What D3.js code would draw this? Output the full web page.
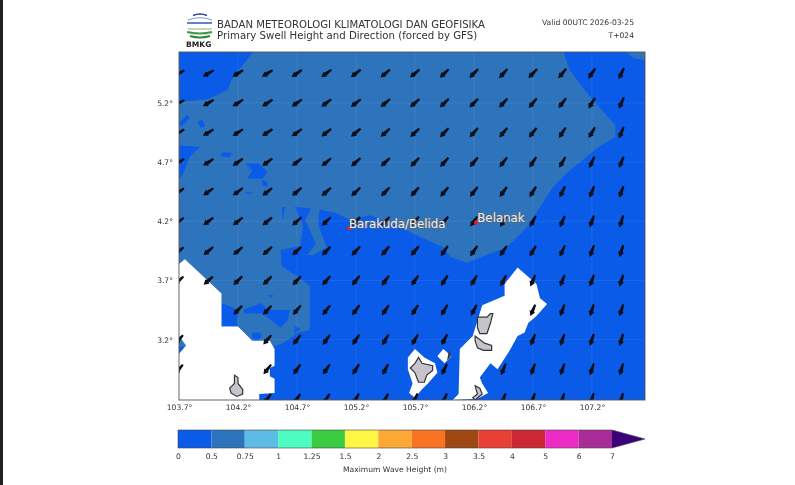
<!DOCTYPE html>
<html lang="en">
<head>
  <meta charset="utf-8">
  <title>Primary Swell Height and Direction</title>
  <script src="https://d3js.org/d3.v7.min.js"></script>
  <style>
    html, body { margin: 0; padding: 0; background: #fff; overflow: hidden; }
    svg { display: block; filter: blur(0.45px); }
    text { font-family: "DejaVu Sans", sans-serif; }
  </style>
</head>
<body>
  <script>
    var width = 795;
    var height = 485;

    // map extent and ticks, degrees
    var lonExtent = [103.7, 107.65];
    var latExtent = [2.69, 5.63];
    var lonTicks = [103.7, 104.2, 104.7, 105.2, 105.7, 106.2, 106.7, 107.2];
    var latTicks = [3.2, 3.7, 4.2, 4.7, 5.2];

    // swell arrows: grid and direction, degrees below west
    // null = no arrow drawn, cell has no data
    var arrowLons = [103.7, 103.95, 104.2, 104.45, 104.7, 104.95, 105.2, 105.45, 105.7, 105.95, 106.2, 106.45, 106.7, 106.95, 107.2, 107.45];
    var arrowLats = [5.45, 5.2, 4.95, 4.7, 4.45, 4.2, 3.95, 3.7, 3.45, 3.2, 2.95, 2.7];
    var arrowDirs = [
      [28, 30, 32, 32, 34, 36, 38, 40, 40, 44, 45, 48, 46, 50, 55, 65],
      [28, 30, 32, 33, 35, 37, 38, 40, 41, 44, 46, 48, 50, 52, 58, 66],
      [30, 31, 33, 34, 36, 38, 40, 42, 43, 46, 48, 50, 52, 56, 60, 67],
      [32, 33, 35, 36, 38, 40, 42, 44, 46, 48, 50, 52, 56, 60, 65, 68],
      [34, 35, 37, 38, 40, 42, 44, 46, 48, 50, 52, 54, 58, 64, 68, 70],
      [36, 37, 38, 40, 42, 44, 46, 48, 50, 52, 54, 58, 62, 66, 70, 72],
      [38, 39, 40, 42, 44, 46, 48, 50, 50, 55, 55, 55, 60, 65, 70, 72],
      [42, 42, 44, 45, 47, 49, 52, 54, 56, 58, 60, 62, 66, 68, 70, 72],
      [null, null, 46, 47, 50, 52, 54, 56, 58, 60, 62, null, 67, 70, 72, 72],
      [48, null, null, 50, 52, 54, 56, 58, 60, 62, null, null, 68, 70, 72, 74],
      [50, null, null, 52, 54, 56, 58, 62, null, 65, null, 68, 70, 70, 72, 74],
      [null, null, null, 54, 56, 58, 60, 63, 64, 65, null, 68, 70, 72, 72, 74]
    ];

    // filled contour 0.5-0.75 m, [lon, lat]
    var mediumBand = [
      [104.33,5.63],[104.16,5.42],[104.11,5.31],[103.94,5.23],[103.70,5.21],[103.70,3.14],[104.50,3.14],
      [104.60,3.18],[104.71,3.26],[104.81,3.28],[104.81,3.65],[104.71,3.73],[104.57,3.82],[104.56,3.96],
      [104.83,3.91],[104.95,3.98],[104.88,4.17],[104.89,4.30],[105.03,4.27],[105.15,4.21],[105.32,4.25],
      [105.60,4.14],[105.74,4.07],[105.94,3.98],[106.00,3.90],[106.14,3.85],[106.48,3.98],[106.65,4.15],
      [106.87,4.49],[106.99,4.61],[107.27,4.84],[107.40,4.91],[107.40,5.01],[107.16,5.28],[107.01,5.48],[106.96,5.63]
    ];
    var mediumCorner = [[107.49,5.63],[107.55,5.58],[107.65,5.56],[107.65,5.63]];

    // 0-0.5 m patches lying inside the band
    var lowPatches = [
      [[104.57,3.96],[104.73,3.99],[104.75,4.17],[104.68,4.32],[104.82,4.31],[104.77,4.21],[104.86,4.01],[104.79,3.92]],
      [[103.70,5.03],[103.77,5.10],[103.79,5.07],[103.72,5.00]],
      [[103.86,5.04],[103.90,5.06],[103.92,5.00],[103.88,4.99]],
      [[103.70,4.84],[103.88,4.83],[103.79,4.74],[103.73,4.59],[103.70,4.56]],
      [[104.06,4.78],[104.15,4.78],[104.13,4.74],[104.06,4.75]],
      [[104.26,4.69],[104.37,4.69],[104.45,4.62],[104.41,4.56],[104.28,4.56],[104.32,4.63]],
      [[104.40,4.55],[104.45,4.53],[104.45,4.49],[104.41,4.50]],
      [[104.26,4.45],[104.33,4.44],[104.29,4.43]],
      [[104.57,4.32],[104.60,4.32],[104.58,4.21]],
      [[104.06,3.51],[104.16,3.47],[104.20,3.41],[104.19,3.35],[104.20,3.31],[104.06,3.31]],
      [[104.24,3.45],[104.40,3.51],[104.45,3.45],[104.64,3.45],[104.62,3.36],[104.56,3.30],[104.45,3.39],[104.40,3.42],[104.26,3.42]],
      [[104.32,3.26],[104.39,3.26],[104.40,3.22],[104.36,3.19],[104.32,3.21]],
      [[104.68,3.32],[104.73,3.29],[104.68,3.25]],
      [[104.45,3.58],[104.51,3.57],[104.48,3.56]]
    ];

    // no data around land
    var noData = [
      [[103.70,3.84],[103.75,3.88],[104.06,3.59],[104.06,3.31],[104.20,3.31],[104.32,3.19],[104.47,3.19],[104.51,3.12],
       [104.51,2.98],[104.47,2.96],[104.47,2.89],[104.51,2.87],[104.51,2.75],[104.38,2.74],[104.38,2.69],[103.70,2.69],
       [103.70,3.08],[103.76,3.15],[103.70,3.23]],
      [[106.57,3.81],[106.73,3.67],[106.76,3.55],[106.82,3.50],[106.73,3.40],[106.66,3.34],[106.63,3.26],[106.57,3.23],
       [106.51,3.12],[106.40,2.95],[106.34,3.00],[106.25,2.88],[106.27,2.83],[106.32,2.75],[106.23,2.70],[106.02,2.69],
       [106.07,2.74],[106.08,3.12],[106.19,3.23],[106.27,3.49],[106.46,3.57],[106.46,3.67]],
      [[105.70,3.12],[105.78,3.05],[105.87,3.00],[105.89,2.92],[105.81,2.83],[105.76,2.78],[105.70,2.71],[105.65,2.75],
       [105.68,2.83],[105.64,2.95],[105.64,3.05]],
      [[105.94,3.12],[106.01,3.06],[105.95,3.00],[105.89,3.06]]
    ];

    var islands = [
      [[104.17,2.90],[104.20,2.88],[104.20,2.83],[104.24,2.78],[104.24,2.74],[104.19,2.72],[104.14,2.75],[104.13,2.79],[104.17,2.83]],
      [[105.73,3.05],[105.76,3.00],[105.85,2.98],[105.85,2.94],[105.80,2.90],[105.78,2.84],[105.73,2.84],[105.70,2.92],[105.66,2.96],[105.70,3.00]],
      [[106.21,3.23],[106.29,3.17],[106.35,3.15],[106.35,3.11],[106.28,3.11],[106.23,3.13],[106.21,3.19]],
      [[106.23,3.39],[106.31,3.39],[106.34,3.42],[106.36,3.42],[106.34,3.34],[106.31,3.25],[106.25,3.25],[106.23,3.30]],
      [[106.21,2.81],[106.25,2.79],[106.27,2.74],[106.21,2.69],[106.19,2.71],[106.23,2.74]],
      [[105.99,3.09],[106.00,3.06],[105.98,3.04]]
    ];

    // stations
    var stationNames = ["Barakuda/Belida", "Belanak"];
    var stationLons = [105.14, 106.22];
    var stationLats = [4.14, 4.19];

    // colour bar
    var levelLabels = ["0", "0.5", "0.75", "1", "1.25", "1.5", "2", "2.5", "3", "3.5", "4", "5", "6", "7"];
    var levelColors = ["#0a5ce8", "#2e74bd", "#5cbce6", "#4cfcc0", "#3ccc44", "#fff644", "#fca834", "#f87424", "#a04814", "#e84034", "#cc2834", "#ec2cc4", "#a82c98"];
    var overColor = "#3c0078";

    var svg = d3.select("body")
      .append("svg")
      .attr("width", width)
      .attr("height", height);

    // dark edge of the screenshot
    svg.append("rect").attr("width", 3).attr("height", height).attr("fill", "#222");

    var x = d3.scaleLinear().domain(lonExtent).range([179, 645]);
    var y = d3.scaleLinear().domain(latExtent).range([400, 52]);
    var poly = d3.line().x(function(d) { return x(d[0]); }).y(function(d) { return y(d[1]); }).curve(d3.curveLinearClosed);

    svg.append("clipPath").attr("id", "plot-clip")
      .append("rect")
      .attr("x", x(lonExtent[0])).attr("y", y(latExtent[1]))
      .attr("width", x(lonExtent[1]) - x(lonExtent[0]))
      .attr("height", y(latExtent[0]) - y(latExtent[1]));

    var map = svg.append("g").attr("clip-path", "url(#plot-clip)");

    map.append("rect")
      .attr("x", x(lonExtent[0])).attr("y", y(latExtent[1]))
      .attr("width", x(lonExtent[1]) - x(lonExtent[0]))
      .attr("height", y(latExtent[0]) - y(latExtent[1]))
      .attr("fill", levelColors[0]);

    map.selectAll("path.medium").data([mediumBand, mediumCorner]).enter().append("path")
      .attr("class", "medium").attr("d", poly).attr("fill", levelColors[1]);
    map.selectAll("path.low").data(lowPatches).enter().append("path")
      .attr("class", "low").attr("d", poly).attr("fill", levelColors[0]);
    map.selectAll("path.nodata").data(noData).enter().append("path")
      .attr("class", "nodata").attr("d", poly).attr("fill", "#fff");
    map.selectAll("path.island").data(islands).enter().append("path")
      .attr("class", "island").attr("d", poly)
      .attr("fill", "#c6c3cb").attr("stroke", "#333").attr("stroke-width", 1.2);

    // faint grid
    map.selectAll("line.gx").data(lonTicks).enter().append("line")
      .attr("class", "gx").attr("x1", x).attr("x2", x)
      .attr("y1", y(latExtent[0])).attr("y2", y(latExtent[1]))
      .attr("stroke", "#fff").attr("stroke-opacity", 0.07);
    map.selectAll("line.gy").data(latTicks).enter().append("line")
      .attr("class", "gy").attr("y1", y).attr("y2", y)
      .attr("x1", x(lonExtent[0])).attr("x2", x(lonExtent[1]))
      .attr("stroke", "#fff").attr("stroke-opacity", 0.07);

    // arrows, tip pointing at -x before the rotation
    var arrowShape = "M-6.5,0L-1.5,-3L-1.5,-1.8L6,-1L6,1L-1.5,1.8L-1.5,3Z";
    arrowLats.forEach(function(lat, r) {
      arrowLons.forEach(function(lon, c) {
        if (arrowDirs[r][c] === null) return;
        map.append("path")
          .attr("d", arrowShape)
          .attr("fill", "#0b0f1a")
          .attr("transform", "translate(" + x(lon) + "," + y(lat) + ") rotate(" + (-arrowDirs[r][c]) + ")");
      });
    });

    // stations
    stationNames.forEach(function(name, i) {
      map.append("circle")
        .attr("cx", x(stationLons[i])).attr("cy", y(stationLats[i])).attr("r", 2.2)
        .attr("fill", "#e0202c");
      map.append("text")
        .attr("x", x(stationLons[i]) + (i === 0 ? 0 : 1)).attr("y", y(stationLats[i]))
        .attr("font-size", 11.8)
        .attr("fill", "#eeeeee")
        .attr("stroke", "#666").attr("stroke-width", 1.6).attr("stroke-opacity", 0.7)
        .attr("paint-order", "stroke")
        .text(name);
    });

    // frame and axes
    var frame = svg.append("g");
    frame.append("rect")
      .attr("x", x(lonExtent[0])).attr("y", y(latExtent[1]))
      .attr("width", x(lonExtent[1]) - x(lonExtent[0]))
      .attr("height", y(latExtent[0]) - y(latExtent[1]))
      .attr("fill", "none").attr("stroke", "#555").attr("stroke-width", 0.9);

    var fmt = function(d) { return d.toFixed(1) + "°"; };
    var xAxis = svg.append("g").attr("transform", "translate(0," + y(latExtent[0]) + ")")
      .call(d3.axisBottom(x).tickValues(lonTicks).tickFormat(fmt).tickSize(0).tickPadding(5));
    var yAxis = svg.append("g").attr("transform", "translate(" + x(lonExtent[0]) + ",0)")
      .call(d3.axisLeft(y).tickValues(latTicks).tickFormat(fmt).tickSize(0).tickPadding(6));
    [xAxis, yAxis].forEach(function(a) {
      a.select(".domain").remove();
      a.selectAll("text").attr("font-size", 7.6).attr("font-family", "DejaVu Sans").attr("fill", "#333");
    });

    // titles
    svg.append("text").attr("x", 217).attr("y", 28).attr("font-size", 10.15).attr("fill", "#333")
      .text("BADAN METEOROLOGI KLIMATOLOGI DAN GEOFISIKA");
    svg.append("text").attr("x", 217).attr("y", 39).attr("font-size", 10.2).attr("fill", "#333")
      .text("Primary Swell Height and Direction (forced by GFS)");
    svg.append("text").attr("x", 634).attr("y", 25).attr("text-anchor", "end").attr("font-size", 7.6).attr("fill", "#333")
      .text("Valid 00UTC 2026-03-25");
    svg.append("text").attr("x", 634).attr("y", 38).attr("text-anchor", "end").attr("font-size", 7.6).attr("fill", "#333")
      .text("T+024");

    // BMKG logo
    var logo = svg.append("g").attr("fill", "none");
    logo.append("path").attr("d", "M193,15.5Q200,12.5 207,15.5").attr("stroke", "#2a3f9a").attr("stroke-width", 1.6);
    logo.append("path").attr("d", "M188,20Q200,15.5 212,20").attr("stroke", "#7f9bd8").attr("stroke-width", 1.2);
    logo.append("path").attr("d", "M187,23L212,23").attr("stroke", "#3e62c0").attr("stroke-width", 1.6);
    logo.append("path").attr("d", "M188,29L212,29").attr("stroke", "#a8c8a0").attr("stroke-width", 1.4);
    logo.append("path").attr("d", "M187,32Q200,35 212,32").attr("stroke", "#3f9a4a").attr("stroke-width", 2);
    logo.append("path").attr("d", "M190,36Q200,39 210,36").attr("stroke", "#2f8a3c").attr("stroke-width", 2);
    svg.append("text").attr("x", 186).attr("y", 47).attr("font-size", 7.6).attr("font-weight", "bold").attr("fill", "#222").text("BMKG");

    // colour bar, equal spacing per level
    var cb = d3.scalePoint().domain(levelLabels).range([178, 612]);
    var cbY = d3.scaleLinear().domain([0, 1]).range([448, 430]);
    var bar = svg.append("g");
    bar.selectAll("rect").data(levelColors).enter().append("rect")
      .attr("x", function(d, i) { return cb(levelLabels[i]); })
      .attr("y", cbY(1))
      .attr("width", function(d, i) { return cb(levelLabels[i + 1]) - cb(levelLabels[i]); })
      .attr("height", cbY(0) - cbY(1))
      .attr("fill", function(d) { return d; });
    bar.append("path")
      .attr("d", "M" + cb("7") + "," + cbY(1) + "L645," + cbY(0.5) + "L" + cb("7") + "," + cbY(0) + "Z")
      .attr("fill", overColor);
    bar.append("path")
      .attr("d", "M" + cb("0") + "," + cbY(1) + "L" + cb("7") + "," + cbY(1) + "L645," + cbY(0.5) + "L" + cb("7") + "," + cbY(0) + "L" + cb("0") + "," + cbY(0) + "Z")
      .attr("fill", "none").attr("stroke", "#444").attr("stroke-width", 0.6);

    var cbAxis = svg.append("g").attr("transform", "translate(0," + cbY(0) + ")")
      .call(d3.axisBottom(cb).tickSize(0).tickPadding(6));
    cbAxis.select(".domain").remove();
    cbAxis.selectAll("text").attr("font-size", 7.6).attr("font-family", "DejaVu Sans").attr("fill", "#333");

    svg.append("text").attr("x", 395).attr("y", 472).attr("text-anchor", "middle").attr("font-size", 7.6).attr("fill", "#333")
      .text("Maximum Wave Height (m)");
  </script>
</body>
</html>
